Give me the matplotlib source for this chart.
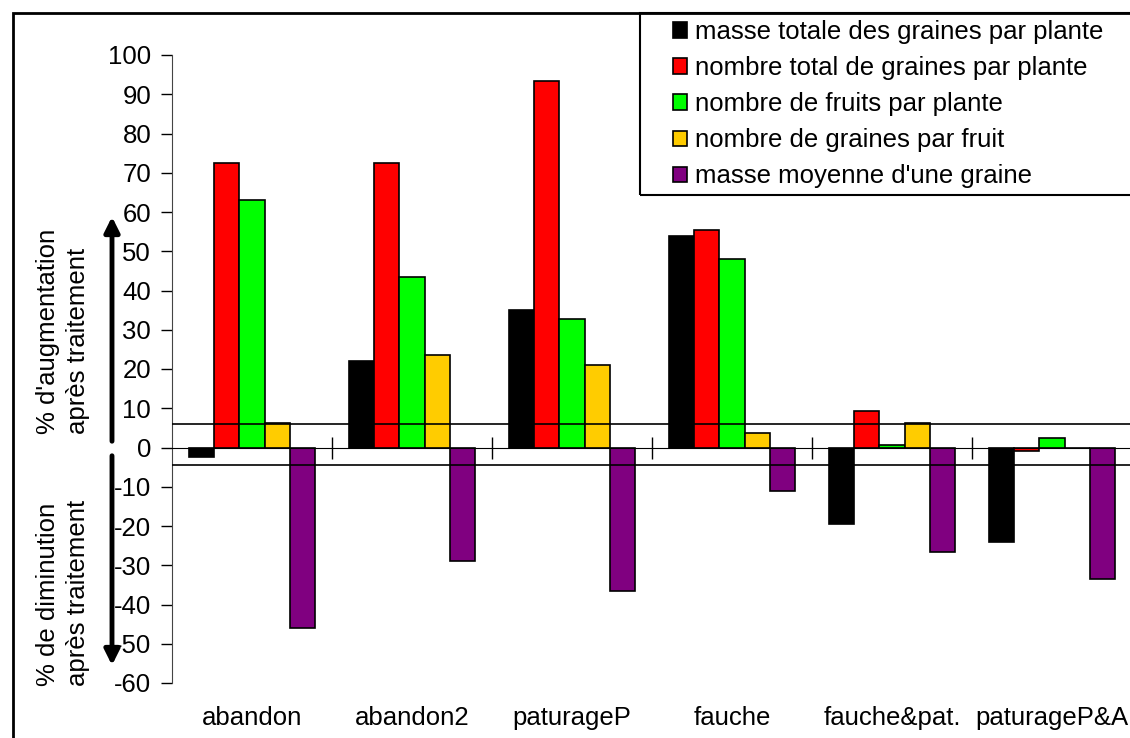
import matplotlib.pyplot as plt
import matplotlib.transforms as mtransforms
from matplotlib.patches import Patch, Rectangle
import numpy as np

plt.rcParams['font.family'] = ['Liberation Sans', 'DejaVu Sans']
plt.rcParams['axes.unicode_minus'] = False

# ---- data ----
categories = ['abandon', 'abandon2', 'paturageP', 'fauche', 'fauche&pat.', 'paturageP&A']
series_names = ['masse totale des graines par plante',
                'nombre total de graines par plante',
                'nombre de fruits par plante',
                'nombre de graines par fruit',
                "masse moyenne d'une graine"]
masse_totale = [-2.5, 22.0, 35.0, 54.0, -19.5, -24.0]
nombre_total = [72.5, 72.5, 93.5, 55.3, 9.3, -1.0]
nombre_fruits = [63.0, 43.5, 32.7, 48.0, 0.7, 2.5]
graines_par_fruit = [6.3, 23.5, 21.0, 3.7, 6.2, 0.0]
masse_moyenne = [-46.0, -29.0, -36.5, -11.0, -26.5, -33.5]
threshold_hi = 6.0
threshold_lo = -4.4

colors = ['#000000', '#FF0000', '#00FF00', '#FFCC00', '#800080']

W, H = 1130, 738
FS = 18.5
fig = plt.figure(figsize=(W / 100, H / 100), dpi=100)


def fx(px):
    return px / W


def fy(py):
    return 1 - py / H


ax = fig.add_axes([fx(172), fy(683), fx(1132) - fx(172), fy(55) - fy(683)])

x = np.arange(len(categories))
width = 0.158
all_series = [masse_totale, nombre_total, nombre_fruits, graines_par_fruit, masse_moyenne]
for k, (vals, c) in enumerate(zip(all_series, colors)):
    ax.bar(x + (k - 2) * width, vals, width, color=c, edgecolor='black',
           linewidth=1.2, zorder=2)

ax.axhline(threshold_hi, color='black', lw=1.2, zorder=3)
ax.axhline(threshold_lo, color='black', lw=1.2, zorder=3)

ax.set_xlim(-0.5, len(categories) - 0.5)
ax.set_ylim(-60, 100)
ax.set_yticks(np.arange(-60, 101, 10))
ax.tick_params(axis='y', direction='out', length=8, width=1, labelsize=FS, pad=7)

# x axis drawn on zero line, ticks between categories
ax.spines['bottom'].set_position(('data', 0))
ax.spines['bottom'].set_zorder(3)
ax.set_xticks(x[:-1] + 0.5)
ax.set_xticklabels([])
ax.tick_params(axis='x', direction='inout', length=16, width=1)
for s in ['top', 'right']:
    ax.spines[s].set_visible(False)
ax.spines['left'].set_color('#444444')

trans = mtransforms.blended_transform_factory(ax.transData, ax.transAxes)
for i, name in enumerate(categories):
    ax.text(i, -0.056, name, transform=trans, ha='center', va='center', fontsize=FS)

# y-axis side labels and arrows
fig.text(fx(63), fy(331), "% d'augmentation\naprès traitement", rotation=90,
         ha='center', va='center', fontsize=FS, linespacing=1.35, multialignment='left')
fig.text(fx(63), fy(593), "% de diminution\naprès traitement", rotation=90,
         ha='center', va='center', fontsize=FS, linespacing=1.35, multialignment='left')
arrow_kw = dict(arrowstyle='-|>,head_width=0.45,head_length=0.9', color='black', lw=3.5)
ax.annotate('', xy=(fx(112), fy(214)), xytext=(fx(112), fy(444)),
            xycoords='figure fraction', textcoords='figure fraction', arrowprops=arrow_kw)
ax.annotate('', xy=(fx(112), fy(668)), xytext=(fx(112), fy(453)),
            xycoords='figure fraction', textcoords='figure fraction', arrowprops=arrow_kw)

# outer frame and legend box
fig.patches.append(Rectangle((fx(13), fy(H + 5)), fx(W + 20) - fx(13), fy(13) - fy(H + 5),
                             transform=fig.transFigure, fill=False, ec='black', lw=2))
fig.patches.append(Rectangle((fx(640), fy(195)), fx(W + 20) - fx(640), fy(13) - fy(195),
                             transform=fig.transFigure, fill=False, ec='black', lw=1.5))

handles = [Patch(facecolor=c, edgecolor='black', linewidth=1.2) for c in colors]
fig.legend(handles, series_names, loc='upper left',
           bbox_to_anchor=(fx(668), fy(15)), frameon=False, fontsize=FS,
           handlelength=0.55, handleheight=0.55, handletextpad=0.3,
           labelspacing=0.47, borderpad=0.2, borderaxespad=0)

fig.savefig('out.png', dpi=100)
